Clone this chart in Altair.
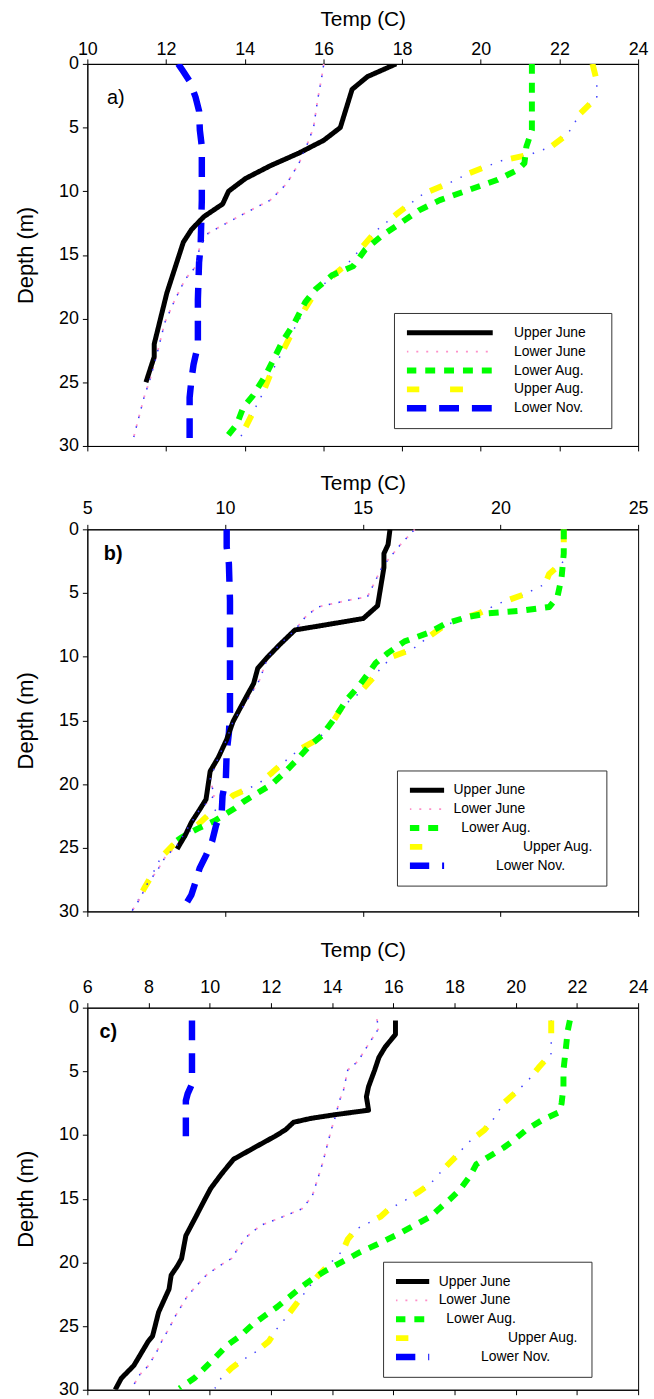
import altair as alt
import pandas as pd

SERIES = ["Upper June", "Lower June", "Lower Aug.", "Upper Aug.", "Lower Nov."]
DRAW_ORDER = ["Lower June", "Upper Aug.", "Lower Aug.", "Lower Nov.", "Upper June"]

# ---------------- Panel a ----------------
A_UJ_D = [0, 1, 2, 5, 6, 7, 8, 9, 10, 11, 12, 13, 14, 16, 18, 20, 22, 23, 25]
A_UJ_T = [17.85, 17.12, 16.73, 16.43, 16.01, 15.38, 14.65, 14.02, 13.59, 13.44, 12.96,
          12.65, 12.44, 12.23, 12.02, 11.86, 11.70, 11.70, 11.49]
A_LJ_D = [0, 1, 2.9, 5, 6.3, 7.8, 9.4, 10.7, 11.7, 12.5, 13.3, 14.3, 15.9, 16.9, 18.5,
          20.3, 22.9, 24.7, 26.2, 28.1, 29.3]
A_LJ_T = [16.01, 15.96, 15.85, 15.75, 15.59, 15.38, 15.07, 14.65, 14.02, 13.54, 13.07,
          12.86, 12.76, 12.49, 12.23, 11.97, 11.76, 11.60, 11.44, 11.28, 11.18]
A_LA_D = [0, 2.9, 5.2, 6.5, 7.8, 8.3, 9.1, 9.9, 10.7, 11.5, 12.5, 13.5, 14.6, 15.9, 16.6,
          17.7, 18.7, 20.3, 21.8, 23.1, 24.4, 26.0, 27.0, 28.3, 29.3]
A_LA_T = [21.30, 21.30, 21.30, 21.16, 21.11, 20.95, 20.43, 19.69, 18.96, 18.43, 17.96,
          17.48, 17.06, 16.75, 16.22, 15.80, 15.54, 15.27, 14.96, 14.75, 14.54, 14.22,
          13.96, 13.80, 13.54]
A_UA_D = [0, 1.35, 2.6, 3.9, 5.5, 6.5, 7.1, 7.6, 8.6, 9.4, 10.2, 11.7, 13.0, 14.3, 15.6,
          16.4, 17.9, 19.2, 21.3, 22.9, 24.4, 26.0, 27.3, 28.6, 29.9]
A_UA_T = [22.84, 22.95, 22.95, 22.53, 22.21, 21.79, 21.27, 20.53, 19.69, 19.17, 18.54,
          17.90, 17.38, 17.01, 16.64, 16.33, 15.80, 15.54, 15.17, 14.91, 14.65, 14.44,
          14.22, 14.01, 13.80]
A_LN_D = [0, 0.6, 1.35, 2.6, 3.7, 5.2, 6.5, 10.7, 14.3, 15.6, 18.5, 22.1, 23.6, 24.7, 26.2, 29.9]
A_LN_T = [12.31, 12.44, 12.60, 12.75, 12.84, 12.86, 12.91, 12.91, 12.88, 12.84, 12.81,
          12.81, 12.70, 12.65, 12.60, 12.60]

# ---------------- Panel b ----------------
B_UJ_D = [0, 1.2, 1.9, 3.0, 6.0, 7.0, 7.5, 7.9, 9.0, 10.0, 10.9, 12.1, 13.0, 14.2, 15.1,
          16.5, 17.9, 19.0, 21.2, 22.0, 23.0, 24.0, 25.1]
B_UJ_T = [15.99, 15.92, 15.77, 15.77, 15.54, 15.02, 13.66, 12.54, 12.01, 11.56, 11.19,
          11.04, 10.81, 10.51, 10.29, 10.06, 9.76, 9.46, 9.31, 9.08, 8.78, 8.56, 8.26]
B_LJ_D = [0, 1.2, 3.0, 4.0, 5.3, 5.6, 6.1, 6.9, 7.9, 9.0, 10.0, 11.8, 13.4, 15.1, 16.5,
          17.9, 19.6, 20.9, 22.0, 23.0, 24.8, 25.8, 26.9, 27.7, 29.0, 30]
B_LJ_T = [16.89, 16.37, 15.69, 15.47, 15.17, 14.41, 13.36, 12.91, 12.54, 12.01, 11.56,
          11.26, 10.81, 10.29, 10.06, 9.76, 9.46, 9.61, 9.08, 8.78, 8.26, 7.81, 7.51,
          7.21, 6.91, 6.61]
B_LA_D = [0, 1.9, 3.8, 5.3, 6.1, 6.4, 6.6, 6.9, 7.4, 8.1, 8.8, 9.7, 10.5, 11.2, 12.3,
          13.4, 14.9, 16.2, 17.0, 18.1, 19.1, 20.0, 20.8, 21.4, 21.9, 22.3, 22.9, 23.5,
          24.2, 24.8]
B_LA_T = [22.30, 22.30, 22.22, 22.07, 21.77, 20.72, 19.52, 18.77, 18.02, 17.42, 16.52,
          15.92, 15.47, 15.24, 14.86, 14.41, 13.96, 13.51, 13.06, 12.61, 12.16, 11.71,
          11.11, 10.66, 10.36, 10.06, 9.61, 9.01, 8.41, 8.03]
B_UA_D = [0, 0.9, 2.5, 3.5, 4.3, 5.1, 5.8, 6.6, 7.1, 7.7, 8.4, 9.4, 10.0, 11.0, 11.8,
          12.9, 13.9, 15.5, 16.5, 17.3, 18.1, 19.1, 19.9, 20.4, 20.9, 21.7, 22.3, 23.2,
          24.0, 24.8, 25.8, 27.1, 28.2, 29.2, 30.0]
B_UA_T = [22.30, 22.30, 22.30, 21.77, 21.62, 20.87, 19.97, 19.22, 18.47, 17.87, 17.42,
          16.82, 16.07, 15.62, 15.32, 14.86, 14.26, 13.81, 13.36, 12.69, 12.24, 11.71,
          11.26, 10.81, 10.29, 9.91, 9.46, 9.01, 8.56, 8.11, 7.66, 7.36, 7.06, 6.83, 6.61]
B_LN_D = [0, 1.4, 2.7, 5.6, 9.5, 14.4, 16.0, 17.5, 19.6, 20.9, 22.2, 23.2, 24.5, 25.6,
          26.6, 27.7, 28.7, 29.5, 29.9]
B_LN_T = [10.06, 10.06, 10.14, 10.18, 10.18, 10.18, 10.14, 10.06, 10.03, 9.91, 9.88,
          9.68, 9.53, 9.31, 9.08, 8.93, 8.78, 8.56, 8.41]

# ---------------- Panel c ----------------
C_UJ_D = [1.0, 2.1, 3.1, 3.9, 4.9, 6.2, 7.0, 8.05, 8.4, 8.7, 9.0, 9.6, 10.1, 11.0, 11.9,
          13.1, 14.2, 15.1, 16.4, 17.9, 19.7, 20.3, 21.0, 22.1, 23.9, 25.8, 26.2, 28.1,
          29.1, 30.0]
C_UJ_T = [16.07, 16.07, 15.73, 15.53, 15.39, 15.19, 15.12, 15.19, 14.10, 13.29, 12.74,
          12.47, 12.13, 11.45, 10.78, 10.37, 10.03, 9.83, 9.55, 9.22, 9.08, 8.94, 8.74,
          8.67, 8.33, 8.13, 7.99, 7.52, 7.11, 6.91]
C_LJ_D = [0.9, 1.6, 3.4, 4.2, 4.9, 6.5, 7.3, 8.6, 9.6, 10.9, 12.2, 13.2, 14.8, 15.8,
          16.2, 16.6, 17.1, 17.9, 18.7, 19.7, 20.3, 21.0, 21.7, 22.6, 23.4, 24.2, 25.2,
          26.0, 27.0, 28.1, 28.8, 29.6]
C_LJ_T = [15.46, 15.53, 15.05, 14.85, 14.51, 14.37, 14.24, 14.10, 13.97, 13.83, 13.69,
          13.56, 13.35, 13.01, 12.61, 12.20, 11.66, 11.25, 10.98, 10.71, 10.30, 9.89,
          9.62, 9.28, 9.08, 8.88, 8.67, 8.47, 8.27, 8.00, 7.72, 7.52]
C_LA_D = [1.0, 1.8, 3.4, 4.9, 6.2, 7.5, 8.2, 8.8, 9.6, 10.4, 11.0, 11.7, 12.3, 13.2,
          14.3, 15.1, 15.8, 16.4, 17.1, 17.8, 18.6, 19.2, 19.9, 20.6, 21.2, 21.9, 22.7,
          23.5, 24.2, 24.9, 25.8, 26.5, 27.5, 28.3, 29.1, 29.9]
C_LA_T = [21.77, 21.70, 21.63, 21.56, 21.56, 21.50, 21.43, 20.88, 20.34, 19.94, 19.60,
          19.12, 18.71, 18.51, 18.17, 17.83, 17.49, 17.22, 16.68, 16.14, 15.46, 14.91,
          14.37, 13.83, 13.42, 13.01, 12.61, 12.20, 11.79, 11.39, 10.98, 10.57, 10.17,
          9.83, 9.49, 9.01]
C_UA_D = [1.0, 1.8, 3.6, 4.7, 5.7, 6.5, 7.5, 8.6, 9.6, 10.6, 11.7, 12.7, 13.8, 14.5,
          15.3, 15.8, 16.4, 16.9, 17.4, 18.2, 19.0, 20.0, 21.0, 21.8, 23.1, 24.4, 25.2,
          26.2, 27.0, 27.8, 28.3, 29.1, 29.9]
C_UA_T = [21.16, 21.16, 21.16, 20.75, 20.41, 20.07, 19.60, 19.32, 18.98, 18.44, 18.04,
          17.63, 17.22, 16.81, 16.27, 15.86, 15.59, 15.19, 14.78, 14.51, 14.37, 13.97,
          13.56, 13.29, 12.88, 12.47, 12.20, 11.93, 11.52, 10.98, 10.71, 10.37, 10.17]
C_LN_D = [1.0, 2.6, 4.9, 6.0, 6.75, 7.3, 10.1]
C_LN_T = [9.42, 9.42, 9.42, 9.42, 9.28, 9.22, 9.22]

# panel tags and their positions (data coordinates)
TAGS = ["a)", "b)", "c)"]
TAG_X = [10.5, 5.6, 6.4]
TAG_Y = [2.65, 1.95, 1.95]

X_DOMAINS = [[10, 24], [5, 25], [6, 24]]
X_TICKS = [[10, 12, 14, 16, 18, 20, 22, 24], [5, 10, 15, 20, 25],
           [6, 8, 10, 12, 14, 16, 18, 20, 22, 24]]
Y_TICKS = [0, 5, 10, 15, 20, 25, 30]

# legend labels as printed in each panel (b and c have some labels indented);
# a zero-width space keeps the padding spaces from being trimmed
NB = "\u00a0"
ZW = "\u200b"
LEGEND_LABELS = [
    ["Upper June" + NB * 3 + ZW, "Lower June", "Lower Aug.", "Upper Aug.", "Lower Nov."],
    ["Upper June", "Lower June", ZW + NB * 2 + "Lower Aug.", ZW + NB * 18 + "Upper Aug.",
     ZW + NB * 11 + "Lower Nov."],
    ["Upper June", "Lower June", ZW + NB * 2 + "Lower Aug.", ZW + NB * 18 + "Upper Aug.",
     ZW + NB * 11 + "Lower Nov."],
]

COLORS = ["#000000", "#ff8fc8", "#00ff00", "#ffff00", "#0000ff"]
DASHES = [[1, 0], [2, 8], [10, 9], [13, 31], [20, 13]]
WIDTHS = [5, 1.8, 6, 6, 6.5]

PANELS = [
    {"Upper June": (A_UJ_D, A_UJ_T), "Lower June": (A_LJ_D, A_LJ_T),
     "Lower Aug.": (A_LA_D, A_LA_T), "Upper Aug.": (A_UA_D, A_UA_T),
     "Lower Nov.": (A_LN_D, A_LN_T)},
    {"Upper June": (B_UJ_D, B_UJ_T), "Lower June": (B_LJ_D, B_LJ_T),
     "Lower Aug.": (B_LA_D, B_LA_T), "Upper Aug.": (B_UA_D, B_UA_T),
     "Lower Nov.": (B_LN_D, B_LN_T)},
    {"Upper June": (C_UJ_D, C_UJ_T), "Lower June": (C_LJ_D, C_LJ_T),
     "Lower Aug.": (C_LA_D, C_LA_T), "Upper Aug.": (C_UA_D, C_UA_T),
     "Lower Nov.": (C_LN_D, C_LN_T)},
]

LEGEND_POS = [(309, 251), (312, 243), (298, 256)]
SYMBOL_LEN = [87, 35, 34]
LABEL_OFF = [18, 6, 6]
LABEL_PAD = [0, 7, 6]
TITLE_PAD = [12, 6, 19]

FONT = "Liberation Sans"


def make_df(k):
    panel = PANELS[k]
    names = dict(zip(SERIES, LEGEND_LABELS[k]))
    rows = []
    for s in DRAW_ORDER:
        d, t = panel[s]
        for i, (dd, tt) in enumerate(zip(d, t)):
            rows.append({"series": names[s], "key": s, "depth": dd, "temp": tt, "idx": i})
    return pd.DataFrame(rows)


def make_panel(k):
    df = make_df(k)
    domain = LEGEND_LABELS[k]
    xscale = alt.Scale(domain=X_DOMAINS[k], nice=False, zero=False)
    yscale = alt.Scale(domain=[0, 30], reverse=True, nice=False, zero=False)
    leg = alt.Legend(
        orient="none", legendX=LEGEND_POS[k][0], legendY=LEGEND_POS[k][1],
        direction="vertical", title=None, symbolType="stroke",
        symbolSize=SYMBOL_LEN[k] ** 2, clipHeight=14, rowPadding=5, padding=13,
        symbolOffset=-4, labelOffset=LABEL_OFF[k], labelFont=FONT, labelFontSize=14,
        labelColor="black", strokeColor="#333333", fillColor="white", labelLimit=400,
        symbolOpacity=1,
    )
    top_axis = alt.Axis(
        orient="top", values=X_TICKS[k], title="Temp (C)", titleFontSize=21,
        labelFontSize=18, tickSize=5, labelPadding=LABEL_PAD[k],
        titlePadding=TITLE_PAD[k], labelFlush=False, labelOverlap=False, format="d",
    )
    bottom_axis = alt.Axis(orient="bottom", values=X_TICKS[k], labels=False,
                           tickSize=5, title="")
    y_axis = alt.Axis(values=Y_TICKS, title="Depth (m)", titleFontSize=22,
                      labelFontSize=18, tickSize=5, labelPadding=4, titlePadding=21,
                      labelFlush=False, labelOverlap=False, format="d")

    base = alt.Chart(df)
    yenc = alt.Y("depth:Q", scale=yscale, axis=y_axis)

    ua_dots = base.transform_filter(alt.datum.key == "Upper Aug.").mark_line(
        color="#4040ff", strokeDash=[1.5, 9.5], strokeWidth=1.5, clip=True
    ).encode(
        x=alt.X("temp:Q", scale=xscale, axis=bottom_axis),
        y=yenc,
        order="idx:Q",
    )

    main = base.mark_line(clip=True, strokeCap="butt", strokeJoin="round").encode(
        x=alt.X("temp:Q", scale=xscale, axis=top_axis),
        y=yenc,
        color=alt.Color("series:N", scale=alt.Scale(domain=domain, range=COLORS), legend=leg),
        strokeDash=alt.StrokeDash("series:N", scale=alt.Scale(domain=domain, range=DASHES), legend=leg),
        strokeWidth=alt.StrokeWidth("series:N", scale=alt.Scale(type="ordinal", domain=domain, range=WIDTHS), legend=leg),
        order="idx:Q",
    )

    lj_dots = base.transform_filter(alt.datum.key == "Lower June").mark_line(
        color="#3030ff", strokeDash=[1.5, 8.5], strokeDashOffset=-2, strokeWidth=1.5, clip=True
    ).encode(
        x=alt.X("temp:Q", scale=xscale, axis=None),
        y=yenc,
        order="idx:Q",
    )

    tag_df = pd.DataFrame({"t": [TAGS[k]], "x": [TAG_X[k]], "y": [TAG_Y[k]]})
    tag = alt.Chart(tag_df).mark_text(
        align="left", baseline="middle", fontSize=20, font=FONT,
        fontWeight="normal" if k == 0 else "bold", color="black",
    ).encode(
        x=alt.X("x:Q", scale=xscale, axis=None),
        y=alt.Y("y:Q", scale=yscale, axis=y_axis),
        text="t:N",
    )

    return alt.layer(ua_dots, main, lj_dots, tag).resolve_axis(x="independent").properties(
        width=555, height=385
    )


RES = dict(x="independent", y="independent", color="independent",
           strokeDash="independent", strokeWidth="independent")
LRES = dict(color="independent", strokeDash="independent", strokeWidth="independent")

top_two = alt.vconcat(make_panel(0), make_panel(1), spacing=16).resolve_scale(**RES).resolve_legend(**LRES)

chart = alt.vconcat(top_two, make_panel(2), spacing=17).resolve_scale(**RES).resolve_legend(
    **LRES
).properties(
    padding={"left": 14, "top": 2, "right": 5, "bottom": 0},
    background="white",
).configure_view(
    stroke="black", strokeWidth=1
).configure_axis(
    domainColor="black", tickColor="black", labelColor="black", titleColor="black",
    labelFont=FONT, titleFont=FONT, titleFontWeight="normal", grid=False,
    domainWidth=1, tickWidth=1,
)

chart.save("out.html", embed_options={"renderer": "svg", "actions": False})
